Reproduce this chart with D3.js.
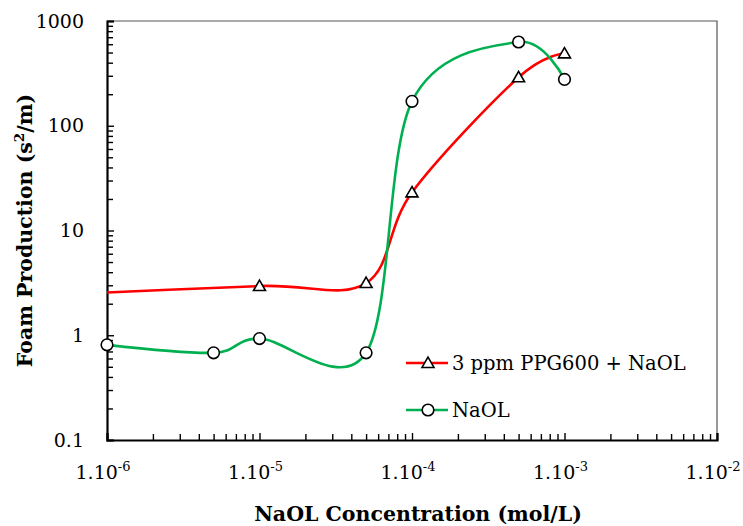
<!DOCTYPE html>
<html>
<head>
<meta charset="utf-8">
<script src="https://cdn.jsdelivr.net/npm/d3@7/dist/d3.min.js"></script>
<style>
  html, body { margin: 0; padding: 0; background: #fff; }
  svg { display: block; }
  text { font-family: "DejaVu Serif", "Liberation Serif", serif; fill: #000; }
</style>
</head>
<body>
<svg id="chart" width="743" height="526"></svg>
<script>
// NaOL concentration (mol/L) and foam production (s^2/m)
const redX = [5e-7, 1e-5, 5e-5, 1e-4, 5e-4, 1e-3];
const redY = [2.45, 2.95, 3.15, 23.1, 290, 490];
const greenX = [1e-6, 5e-6, 1e-5, 5e-5, 1e-4, 5e-4, 1e-3];
const greenY = [0.81, 0.68, 0.93, 0.68, 171, 630, 277];

const seriesNames = ["3 ppm PPG600 + NaOL", "NaOL"];
const xTickExponents = [-6, -5, -4, -3, -2];
const yTickValues = [0.1, 1, 10, 100, 1000];
const yTickLabels = ["0.1", "1", "10", "100", "1000"];
const xTitle = "NaOL Concentration (mol/L)";

const RED = "#ff0000", GREEN = "#00b050";

const svg = d3.select("#chart");
const pL = 107, pR = 717, pT = 21, pB = 440;

const x = d3.scaleLog().domain([1e-6, 1e-2]).range([pL, pR]);
const y = d3.scaleLog().domain([0.1, 1000]).range([pB, pT]);

svg.append("defs").append("clipPath").attr("id", "plot")
  .append("rect").attr("x", pL).attr("y", pT)
  .attr("width", pR - pL).attr("height", pB - pT);

// minor ticks (2..9 within each decade)
const minorX = [];
for (let e = -6; e < -2; e++) for (let m = 2; m <= 9; m++) minorX.push(m * Math.pow(10, e));
const minorY = [];
for (let e = -1; e < 3; e++) for (let m = 2; m <= 9; m++) minorY.push(m * Math.pow(10, e));

// frame: thin top/right border
svg.append("path")
  .attr("d", `M${pL},${pT}H${pR}V${pB}`)
  .attr("fill", "none").attr("stroke", "#555").attr("stroke-width", 1.2);

const gx = svg.append("g").attr("transform", `translate(0,${pB})`);
gx.call(d3.axisBottom(x).tickValues(minorX).tickSize(-6).tickFormat(""));
gx.call(g => g.selectAll(".domain").remove());
const gx2 = svg.append("g").attr("transform", `translate(0,${pB})`);
gx2.call(d3.axisBottom(x).tickValues(xTickExponents.map(e => Math.pow(10, e))).tickSize(-7).tickFormat(""));
[gx, gx2].forEach(g => g.selectAll("line").attr("stroke", "#000").attr("stroke-width", 1.4));
gx2.select(".domain").attr("stroke", "#000").attr("stroke-width", 2.2);

const gy = svg.append("g").attr("transform", `translate(${pL},0)`);
gy.call(d3.axisLeft(y).tickValues(minorY).tickSize(-6).tickFormat(""));
gy.call(g => g.selectAll(".domain").remove());
const gy2 = svg.append("g").attr("transform", `translate(${pL},0)`);
gy2.call(d3.axisLeft(y).tickValues(yTickValues).tickSize(-7).tickFormat(""));
[gy, gy2].forEach(g => g.selectAll("line").attr("stroke", "#000").attr("stroke-width", 1.4));
gy2.select(".domain").attr("stroke", "#000").attr("stroke-width", 2.2);

// tick labels
const fs = 19;
yTickValues.forEach((v, i) => {
  svg.append("text")
    .attr("x", pL - 23).attr("y", y(v)).attr("dy", "0.35em")
    .attr("text-anchor", "end").attr("font-size", fs)
    .text(yTickLabels[i]);
});
xTickExponents.forEach(e => {
  const t = svg.append("text")
    .attr("x", x(Math.pow(10, e)) - 4).attr("y", 479)
    .attr("text-anchor", "middle").attr("font-size", fs);
  t.append("tspan").text("1.10");
  t.append("tspan").attr("font-size", 13).attr("dy", -8).text(String(e));
});

// axis titles
svg.append("text")
  .attr("x", 418).attr("y", 521)
  .attr("text-anchor", "middle").attr("font-size", 20.5).attr("font-weight", "bold")
  .text(xTitle);
const yt = svg.append("text")
  .attr("transform", `translate(32,${(pT + pB) / 2}) rotate(-90)`)
  .attr("text-anchor", "middle").attr("font-size", 20.5).attr("font-weight", "bold");
yt.append("tspan").text("Foam Production (s");
yt.append("tspan").attr("font-size", 13.5).attr("dy", -8).text("2");
yt.append("tspan").attr("dy", 8).text("/m)");

// series
const line = d3.line().x(d => x(d[0])).y(d => y(d[1])).curve(d3.curveCardinal.tension(0));
const redData = redX.map((v, i) => [v, redY[i]]);
const greenData = greenX.map((v, i) => [v, greenY[i]]);

const plot = svg.append("g").attr("clip-path", "url(#plot)");
plot.append("path").datum(redData).attr("d", line)
  .attr("fill", "none").attr("stroke", RED).attr("stroke-width", 2.6);
plot.append("path").datum(greenData).attr("d", line)
  .attr("fill", "none").attr("stroke", GREEN).attr("stroke-width", 2.6);

const tri = d3.symbol().type(d3.symbolTriangle).size(62);
const inDomain = d => d[0] >= 1e-6 && d[0] <= 1e-2;

svg.append("g").selectAll("circle").data(greenData.filter(inDomain)).join("circle")
  .attr("cx", d => x(d[0])).attr("cy", d => y(d[1])).attr("r", 5.8)
  .attr("fill", "#fff").attr("stroke", "#000").attr("stroke-width", 1.6);
svg.append("g").selectAll("path").data(redData.filter(inDomain)).join("path")
  .attr("d", tri).attr("transform", d => `translate(${x(d[0])},${y(d[1]) + 1})`)
  .attr("fill", "#fff").attr("stroke", "#000").attr("stroke-width", 1.6);

// legend
const legend = svg.append("g");
const legendRows = [
  { name: seriesNames[0], color: RED, y: 363, marker: "tri" },
  { name: seriesNames[1], color: GREEN, y: 410, marker: "circle" }
];
legendRows.forEach(r => {
  legend.append("line").attr("x1", 406).attr("x2", 448).attr("y1", r.y).attr("y2", r.y)
    .attr("stroke", r.color).attr("stroke-width", 2.6);
  if (r.marker === "tri") {
    legend.append("path").attr("d", tri).attr("transform", `translate(428,${r.y + 1})`)
      .attr("fill", "#fff").attr("stroke", "#000").attr("stroke-width", 1.6);
  } else {
    legend.append("circle").attr("cx", 428).attr("cy", r.y).attr("r", 5.8)
      .attr("fill", "#fff").attr("stroke", "#000").attr("stroke-width", 1.6);
  }
  legend.append("text").attr("x", 452).attr("y", r.y).attr("dy", "0.35em")
    .attr("font-size", 19.5).text(r.name);
});
</script>
</body>
</html>
